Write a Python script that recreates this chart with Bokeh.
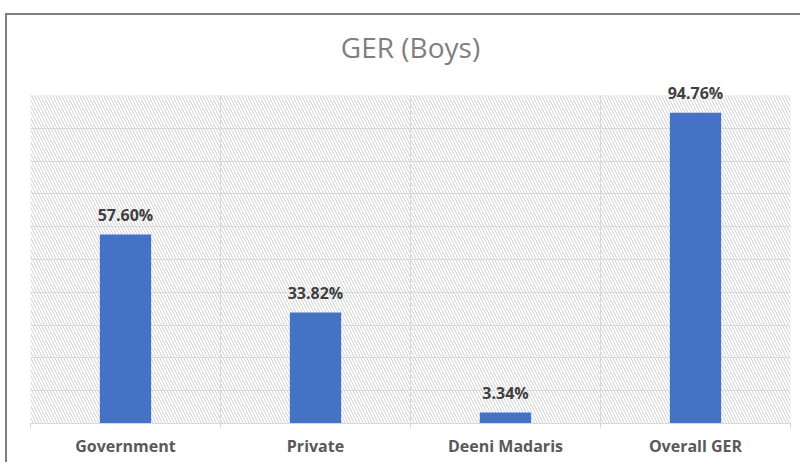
from bokeh.plotting import figure
from bokeh.models import (FactorRange, Range1d, BoxAnnotation, LinearAxis, CategoricalAxis,
                          FixedTicker, ColumnDataSource, LabelSet, Grid, Title)
from bokeh.core.properties import value
from bokeh.embed import file_html
from bokeh.resources import INLINE

categories = ["Government", "Private", "Deeni Madaris", "Overall GER"]
values = [57.60, 33.82, 3.34, 94.76]
value_labels = ["57.60%", "33.82%", "3.34%", "94.76%"]
y_min, y_max = 0, 100
y_grid_ticks = [10, 20, 30, 40, 50, 60, 70, 80, 90]
category_edges = [0, 1, 2, 3, 4]
inner_edges = [1, 2, 3]

source = ColumnDataSource(dict(cat=categories, val=values, label=value_labels))

# leave headroom above the plot area so the top data label is not clipped
y_top = y_max * 348 / 328

p = figure(x_range=FactorRange(*categories), y_range=Range1d(y_min, y_top),
           width=795, height=449, output_backend="svg", toolbar_location=None,
           x_axis_location=None, y_axis_location=None,
           min_border_left=23, min_border_right=12, min_border_top=60, min_border_bottom=41,
           outline_line_color=None, background_fill_color="white",
           styles={"border-top": "2px solid #7f7f7f", "border-left": "2px solid #7f7f7f",
                   "margin-left": "5px", "margin-top": "13px"})

p.title = Title(text="GER (Boys)", align="center", text_font="Open Sans",
                text_font_size="28px", text_font_style="normal", text_color="#7f7f7f",
                standoff=19)

# remove default grids
p.center = [r for r in p.center if not isinstance(r, Grid)]

hatch = BoxAnnotation(bottom=y_min, top=y_max, fill_color="white", fill_alpha=1.0,
                      line_color="#dbe3f0", line_width=1,
                      hatch_pattern="\\", hatch_color="#d2d2d2", hatch_scale=6,
                      hatch_weight=1, level="image")
p.add_layout(hatch)

p.add_layout(Grid(dimension=1, ticker=FixedTicker(ticks=y_grid_ticks),
                  grid_line_color="#d9d9d9", grid_line_width=1))

p.segment(x0=inner_edges, y0=[y_min] * len(inner_edges), x1=inner_edges,
          y1=[y_max] * len(inner_edges), line_color="#d9d9d9", line_width=1,
          level="underlay")

p.vbar(x="cat", top="val", width=0.27, source=source, fill_color="#4472c4",
       line_color=None)

labels = LabelSet(x="cat", y="val", text="label", source=source, text_align="center",
                  text_baseline="alphabetic", y_offset=14, text_font=value("Open Sans"),
                  text_font_size="16px", text_font_style="bold", text_color="#404040")
p.add_layout(labels)

tick_axis = LinearAxis(ticker=FixedTicker(ticks=category_edges), major_tick_out=5,
                       major_tick_in=0, minor_tick_line_color=None,
                       major_tick_line_color="#d9d9d9", axis_line_color="#d9d9d9",
                       major_label_text_font_size="1px", major_label_text_alpha=0,
                       major_label_standoff=0)
p.add_layout(tick_axis, "below")

cat_axis = CategoricalAxis(major_tick_line_color=None, axis_line_color=None,
                           minor_tick_line_color=None, major_label_standoff=0,
                           major_label_text_font="Open Sans", major_label_text_font_size="16px",
                           major_label_text_font_style="bold", major_label_text_color="#595959")
p.add_layout(cat_axis, "below")

open("out.html", "w").write(file_html(p, INLINE))
